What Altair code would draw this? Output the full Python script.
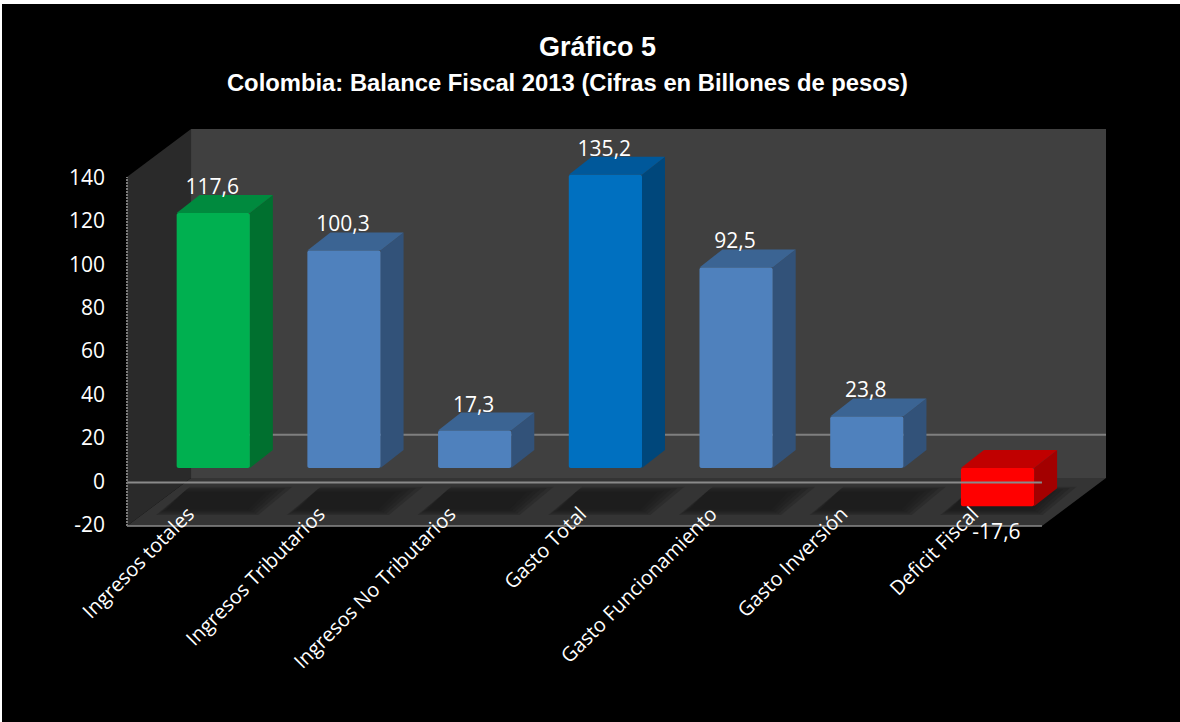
import altair as alt
import pandas as pd

# Fiscal balance figures, in billions of pesos
categories = ["Ingresos totales", "Ingresos Tributarios", "Ingresos No Tributarios",
              "Gasto Total", "Gasto Funcionamiento", "Gasto Inversión", "Deficit Fiscal"]
values = [117.6, 100.3, 17.3, 135.2, 92.5, 23.8, -17.6]
y_ticks = [-20, 0, 20, 40, 60, 80, 100, 120, 140]
title_lines = ["Gráfico 5", "Colombia: Balance Fiscal 2013 (Cifras en Billones de pesos)"]

# Face colours of each box
front_colors = ["#00B050", "#4F81BD", "#4F81BD", "#0070C0", "#4F81BD", "#4F81BD", "#FF0000"]
side_colors = ["#00702F", "#325279", "#325279", "#00477B", "#325279", "#325279", "#A30000"]
top_colors = ["#008A3E", "#3B6493", "#3B6493", "#00589A", "#3B6493", "#3B6493", "#C00000"]

# Pseudo-3D projection, in axis units
X_MAX = 7.49
Y_MIN, Y_MAX = -20, 163
FRONT_W = 7.0
ROOM_DX, ROOM_DY = 0.49, 22.1      # depth of the whole room
PLANE_DY = 6.7                     # height of the plane the boxes stand on
BOX_DX, BOX_DY = 0.176, 8.3        # depth of one box
BOX_W = 0.56
BOX_LEFT = 0.38

WALL = "#404040"
SIDE_WALL = "#2A2A2A"
FLOOR = "#343434"
LINE = "#8A8A8A"
TEXT = "#FFFFFF"
FONT = "Open Sans"

x_scale = alt.Scale(domain=[0, X_MAX], nice=False, zero=False)
y_scale = alt.Scale(domain=[Y_MIN, Y_MAX], nice=False, zero=False)
X = alt.X("x:Q", scale=x_scale, axis=None)
Y = alt.Y("lo:Q", scale=y_scale, axis=None, stack=None)


def parallelogram(xl, xr, y0, y1, lean, group, fill):
    """Flat top and bottom edges, the upper edge shifted right by lean."""
    return [
        dict(x=xl, lo=y0, hi=y0, group=group, fill=fill),
        dict(x=xl + lean, lo=y0, hi=y1, group=group, fill=fill),
        dict(x=xr, lo=y0, hi=y1, group=group, fill=fill),
        dict(x=xr + lean, lo=y1, hi=y1, group=group, fill=fill),
    ]


def slanted(x0, x1, y0, y1, rise, group, fill):
    """Vertical edges at x0 and x1, with the far edge raised by rise."""
    return [
        dict(x=x0, lo=y0, hi=y1, group=group, fill=fill),
        dict(x=x1, lo=y0 + rise, hi=y1 + rise, group=group, fill=fill),
    ]


def faces(rows, opacity=1.0):
    return alt.Chart(pd.DataFrame(rows)).mark_area(
        interpolate="linear", opacity=opacity, strokeWidth=0
    ).encode(x=X, y=Y, y2="hi:Q", detail="group:N",
             color=alt.Color("fill:N", scale=None))


def polyline(points, color, width, dash=None):
    kwargs = {"strokeDash": dash} if dash else {}
    return alt.Chart(pd.DataFrame(points, columns=["x", "lo"])).mark_line(
        color=color, strokeWidth=width, clip=False, **kwargs
    ).encode(x=X, y=Y)


# Thin white margin along the top and left of the black card
one = pd.DataFrame({"c": [0]})
top_margin = alt.Chart(one).mark_rect(color="#FFFFFF").encode(
    x=alt.value(-127), x2=alt.value(1053), y=alt.value(-129), y2=alt.value(-125)
)
left_margin = alt.Chart(one).mark_rect(color="#FFFFFF").encode(
    x=alt.value(-127), x2=alt.value(-125), y=alt.value(-129), y2=alt.value(593)
)

# Room: back wall, left wall and floor
left_wall = faces(slanted(0, ROOM_DX, Y_MIN, Y_MAX - ROOM_DY, ROOM_DY, "left", SIDE_WALL))
back_wall = faces(slanted(ROOM_DX, X_MAX, Y_MIN + ROOM_DY, Y_MAX, 0, "back", WALL))
floor = faces(parallelogram(0, FRONT_W, Y_MIN, Y_MIN + ROOM_DY, ROOM_DX, "floor", FLOOR))

# Soft shadows on the floor, built from nested passes
shadow_layers = []
for inset in (-0.02, 0.0, 0.02, 0.04, 0.06):
    rows = []
    for i in range(len(values)):
        left = i + BOX_LEFT - 0.138 + inset
        right = left + 0.742 - 2 * inset
        rows += parallelogram(left, right, -14.3 + inset * 30, -2.5 - inset * 30,
                              0.229 - inset * 1.6, f"s{i}", "#1A1A1A")
    shadow_layers.append(faces(rows, opacity=0.3))

back_zero = polyline([(ROOM_DX, ROOM_DY), (X_MAX, ROOM_DY)], "#7F7F7F", 2)

# Boxes: side faces, top faces, then front faces
side_rows, top_rows, front_rows = [], [], []
for i, v in enumerate(values):
    a = i + BOX_LEFT
    b = a + BOX_W
    upper = PLANE_DY + max(v, 0)
    lower = PLANE_DY + min(v, 0)
    side_rows += slanted(b, b + BOX_DX, lower, upper, BOX_DY, f"b{i}", side_colors[i])
    top_rows += parallelogram(a, b, upper, upper + BOX_DY, BOX_DX, f"b{i}", top_colors[i])
    front_rows.append(dict(x=a, x2=b, lo=lower, hi=upper, fill=front_colors[i]))

sides = faces(side_rows)
tops = faces(top_rows)
fronts = alt.Chart(pd.DataFrame(front_rows)).mark_rect(cornerRadius=2).encode(
    x=X, x2="x2:Q", y=Y, y2="hi:Q", color=alt.Color("fill:N", scale=None)
)

# Front axis lines
front_zero = polyline([(0, 0), (FRONT_W, 0)], LINE, 2)
bottom_line = polyline([(0, Y_MIN), (FRONT_W, Y_MIN)], LINE, 1.5)
left_line = polyline([(0, Y_MIN), (0, Y_MAX - ROOM_DY)], "#7A7A7A", 2, dash=[2, 1])

# Tick labels of the value axis
tick_df = pd.DataFrame({
    "x": [0] * len(y_ticks),
    "lo": y_ticks,
    "label": [str(t) for t in y_ticks],
})
tick_labels = alt.Chart(tick_df).mark_text(
    color=TEXT, font=FONT, fontSize=21, dx=-22, align="right", baseline="middle"
).encode(x=X, y=Y, text="label:N")

# Value labels
label_df = pd.DataFrame({
    "x": [i + BOX_LEFT + BOX_W / 2 - 0.008 for i in range(len(values))],
    "lo": [PLANE_DY + v for v in values],
    "label": [f"{v:.1f}".replace(".", ",") for v in values],
    "neg": [v < 0 for v in values],
})
pos_labels = alt.Chart(label_df[~label_df.neg]).mark_text(
    color=TEXT, font=FONT, fontSize=21, dy=-25, align="center", baseline="middle"
).encode(x=X, y=Y, text="label:N")
neg_labels = alt.Chart(label_df[label_df.neg]).mark_text(
    color=TEXT, font=FONT, fontSize=21, dy=27, align="center", baseline="middle"
).encode(x=X, y=Y, text="label:N")

# Category names, slanted and ending just inside the floor
cat_df = pd.DataFrame({
    "x": [i + 0.5 + 0.105 for i in range(len(categories))],
    "lo": [Y_MIN] * len(categories),
    "name": categories,
})
cat_labels = alt.Chart(cat_df).mark_text(
    color=TEXT, font=FONT, fontSize=20, angle=315, align="right", baseline="middle", dy=-21
).encode(x=X, y=Y, text="name:N")

# Two-line heading above the room
title_center = (FRONT_W + ROOM_DX) / 2 - 0.375
title_layout = [(title_center + 0.23, -81, 27), (title_center, -45, 23.8)]
title_marks = [
    alt.Chart(pd.DataFrame({"x": [cx], "lo": [Y_MAX], "line": [line]})).mark_text(
        color=TEXT, font="Liberation Sans", fontWeight="bold", fontSize=size,
        align="center", baseline="middle", dy=shift,
    ).encode(x=X, y=Y, text="line:N")
    for line, (cx, shift, size) in zip(title_lines, title_layout)
]

chart = alt.layer(
    top_margin, left_margin,
    left_wall, back_wall, floor, *shadow_layers, back_zero,
    sides, tops, fronts, front_zero, bottom_line, left_line,
    tick_labels, pos_labels, neg_labels, cat_labels, *title_marks,
).properties(
    width=979,
    height=397,
    background="#000000",
    autosize=alt.AutoSizeParams(type="none"),
    padding={"left": 127, "top": 129, "right": 74, "bottom": 196},
).configure_view(strokeWidth=0)

chart.save("out.html", embed_options={"renderer": "svg", "actions": False})
